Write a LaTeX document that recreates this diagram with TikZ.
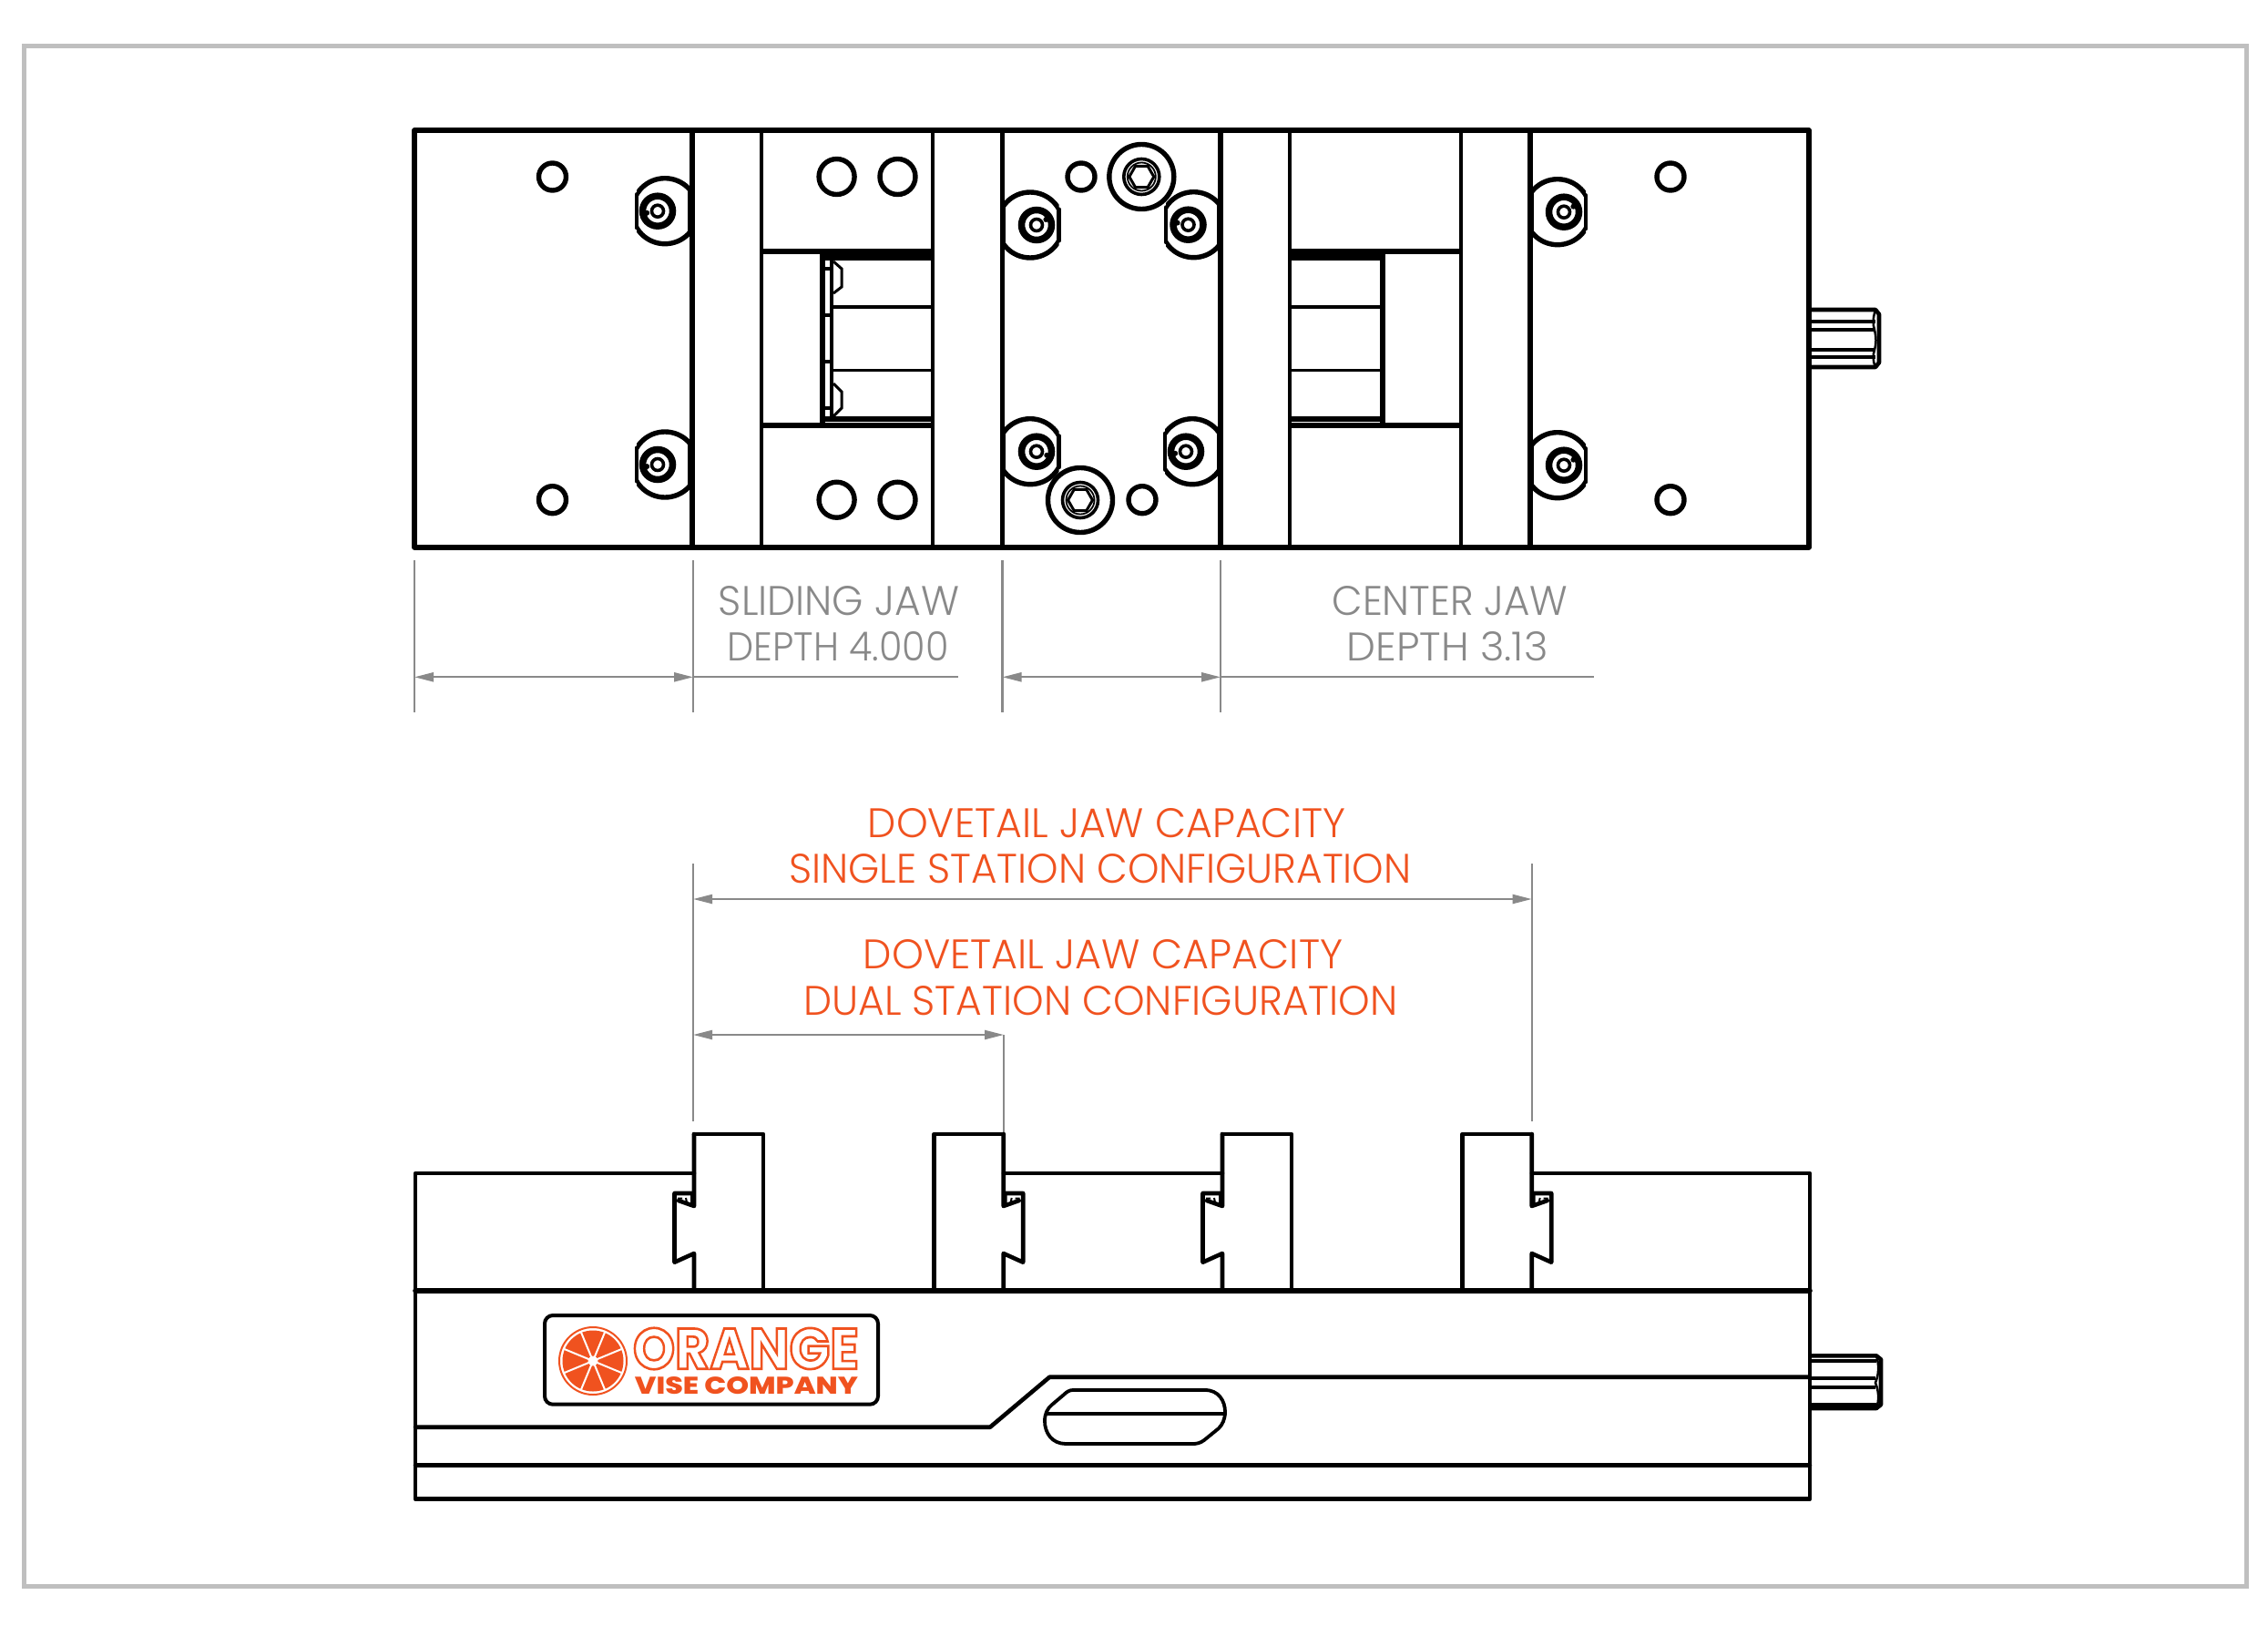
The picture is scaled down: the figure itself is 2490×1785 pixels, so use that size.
\documentclass[tikz,border=0pt]{standalone}
\usepackage{graphicx}
\usepackage{fontspec}
\usetikzlibrary{arrows.meta}
\setmainfont{Liberation Sans}
\newfontfamily\lightfont{Poppins}[UprightFont=* Light]
\newfontfamily\heavyfont{Poppins}[UprightFont=* Bold]
\newfontfamily\blackfont{Poppins}[UprightFont=* ExtraBold]
\definecolor{dimgray}{HTML}{898989}
\definecolor{orangetxt}{HTML}{F0521F}
\newcommand{\fitto}[3]{\resizebox{#1pt}{#2pt}{#3}}
\newcommand{\outlinetext}[1]{\special{pdf:code 1 Tr 0.42 w}#1\special{pdf:code 0 Tr}}
% truncated counterbore with a screw: cx cy sx left right notch-angle
\newcommand{\cbscrew}[6]{%
  \pgfmathsetmacro{\hL}{sqrt(36*36-(#1-#4)*(#1-#4))}%
  \pgfmathsetmacro{\hR}{sqrt(36*36-(#1-#5)*(#1-#5))}%
  \begin{scope}\clip (#4,#2-40) rectangle (#5,#2+40);
    \draw[hole] (#1,#2) circle [radius=36pt];
  \end{scope}
  \draw[part] (#4,#2-\hL) -- (#4,#2+\hL);
  \draw[part] (#5,#2-\hR) -- (#5,#2+\hR);
  \draw[line width=7.5pt] (#3,#2) circle [radius=16.5pt];
  \draw[line width=3.6pt] (#3,#2) circle [radius=6.5pt];
  \fill ([shift={(#6:12pt)}]#3,#2) circle [radius=3pt];
}
% socket head screw
\newcommand{\socket}[2]{%
  \draw[hole] (#1,#2) circle [radius=35.5pt];
  \draw[line width=3.6pt] (#1,#2) circle [radius=19.5pt];
  \draw[line width=1.8pt] (#1,#2) circle [radius=15.5pt];
  \draw[line width=3pt] (#1+13.5,#2) -- (#1+6.75,#2+11.7) -- (#1-6.75,#2+11.7) -- (#1-13.5,#2) -- (#1-6.75,#2-11.7) -- (#1+6.75,#2-11.7) -- cycle;
}
% dovetail: x of jaw face, direction (-1 left, 1 right)
\newcommand{\dovetail}[2]{%
  \begin{scope}[shift={(#1,0)},xscale=#2]
    \draw[part,line join=round] (1.5,1310) -- (21.5,1310) -- (21.5,1385.7) -- (0,1376) -- (0,1416.7);
    \draw[part] (0,1245) -- (0,1324) -- (17,1318);
    \draw[line width=2pt] (3,1312) -- (3,1322) (9,1315) -- (8,1320) (13,1315.5) -- (18,1315.5);
  \end{scope}
}
\tikzset{
  part/.style={line width=4.6pt,line cap=round,line join=round},
  heavy/.style={line width=5.6pt,line cap=round,line join=round},
  slotline/.style={line width=5.6pt,line cap=butt},
  hole/.style={line width=5.4pt},
  thinpart/.style={line width=3.8pt,line cap=butt},
  dimline/.style={dimgray,line width=2.2pt},
  dimarrow/.style={dimgray,line width=2.2pt,{Triangle[length=21pt,width=10pt]}-{Triangle[length=21pt,width=10pt]}},
  greylabel/.style={text=dimgray,inner sep=0pt,font=\lightfont},
  orangelabel/.style={text=orangetxt,inner sep=0pt,font=\lightfont},
}
\begin{document}
\begin{tikzpicture}[x=1pt,y=-1pt]
\useasboundingbox (0,0) rectangle (2490,1785);
\fill[white] (0,0) rectangle (2490,1785);
\draw[color=black!25,line width=5pt] (26,51) rectangle (2466,1741);

% ---------- top view ----------
\draw[heavy] (455,143) rectangle (1986,600.7);
\draw[heavy] (760,143) -- (760,600.7);
\draw[part] (836,143) -- (836,600.7) (1024,143) -- (1024,600.7);
\draw[part] (1100.5,143) -- (1100.5,600.7);
\draw[heavy] (1340,143) -- (1340,600.7);
\draw[part] (1416,143) -- (1416,600.7) (1604,143) -- (1604,600.7);
\draw[heavy] (1680,143) -- (1680,600.7);
\draw[slotline] (836,276) -- (1024,276) (836,467) -- (1024,467);
\draw[slotline] (1416,276) -- (1604,276) (1416,467) -- (1604,467);
% left slot
\draw[slotline] (903,276) -- (903,467);
\draw[thinpart] (913,280) -- (913,461);
\draw[line width=2.4pt] (903,280) -- (1024,280);
\draw[slotline] (903,283.5) -- (1024,283.5);
\draw[thinpart] (913,337) -- (1024,337) (913,406.5) -- (1024,406.5);
\draw[slotline] (903,460) -- (1024,460);
\draw[thinpart] (903,295) -- (913,295) (903,346) -- (913,346) (903,397) -- (913,397) (903,448) -- (913,448);
\draw[line width=3pt] (915,287) -- (924,295) -- (924,315) -- (915,322);
\draw[line width=3pt] (915,421) -- (924,430) -- (924,448) -- (915,457);
% right slot
\draw[slotline] (1518,276) -- (1518,467);
\draw[line width=2.4pt] (1416,280) -- (1516,280);
\draw[slotline] (1416,283.5) -- (1516,283.5);
\draw[thinpart] (1416,337) -- (1516,337) (1416,406.5) -- (1516,406.5);
\draw[slotline] (1416,460) -- (1516,460);
% small holes
\foreach \x/\y in {606.5/194,606.5/548.7,1187/194,1254/548.7,1834/194,1834/548.7}
  \draw[hole] (\x,\y) circle [radius=15pt];
\foreach \x/\y in {918.6/194,985.5/194,918.6/548.7,985.5/548.7}
  \draw[hole] (\x,\y) circle [radius=19.5pt];
% screws
\cbscrew{730}{231.7}{722}{699}{757}{190}
\cbscrew{730}{510}{722}{699}{757}{190}
\cbscrew{1131}{247}{1138}{1102}{1162.6}{30}
\cbscrew{1131}{495.7}{1138}{1102}{1162.6}{-20}
\cbscrew{1310.5}{246.7}{1304.5}{1280}{1338}{170}
\cbscrew{1309}{495.7}{1302}{1279}{1338}{190}
\cbscrew{1710}{232.7}{1717}{1682}{1741}{30}
\cbscrew{1710}{510.7}{1717}{1682}{1741}{30}
\socket{1253.3}{194}
\socket{1186}{549}
% drive stud, top view
\draw[part] (1986,340) -- (2059,340) -- (2063,345) -- (2063,398) -- (2059,403) -- (1986,403);
\draw[thinpart] (1986,353) -- (2059,353) (1986,362) -- (2059,362) (1986,384) -- (2059,384) (1986,392) -- (2059,392);
\draw[line width=2.5pt] (2059,340) .. controls (2056,350) and (2056,356) .. (2058,362) .. controls (2060,372) and (2060,376) .. (2058,384) .. controls (2056,390) and (2056,396) .. (2059,403);

% ---------- dimensions, top ----------
\coordinate (a1) at (455,615); \coordinate (a2) at (455,782);
\coordinate (b1) at (761,615); \coordinate (b2) at (761,782);
\coordinate (c1) at (1100.5,615); \coordinate (c2) at (1100.5,782);
\coordinate (d1) at (1340,615); \coordinate (d2) at (1340,782);
\coordinate (ha) at (455,743.3); \coordinate (hb) at (761,743.3);
\coordinate (hc) at (1100.5,743.3); \coordinate (hd) at (1340,743.3);
\coordinate (he) at (1051.6,743.3); \coordinate (hf) at (1750,743.3);
\draw[dimline] (a1) -- (a2);
\draw[dimline] (b1) -- (b2);
\draw[dimline] (c1) -- (c2);
\draw[dimline] (d1) -- (d2);
\draw[dimarrow] (ha) -- (hb);
\draw[dimarrow] (hc) -- (hd);
\draw[dimline] (hb) -- (he);
\draw[dimline] (hd) -- (hf);
\node[greylabel] (sliding) at (921,660) {\fitto{264}{32}{SLIDING JAW}};
\node[greylabel] (depthA) at (920,710) {\fitto{243}{32}{DEPTH 4.000}};
\node[greylabel] (center) at (1592,660) {\fitto{259}{32}{CENTER JAW}};
\node[greylabel] (depthB) at (1589,710) {\fitto{221}{32}{DEPTH 3.13}};

% ---------- dimensions, capacity ----------
\node[orangelabel] (dovA) at (1215,903.5) {\fitto{524}{32}{DOVETAIL JAW CAPACITY}};
\node[orangelabel] (single) at (1208,954) {\fitto{683}{32}{SINGLE STATION CONFIGURATION}};
\node[orangelabel] (dovB) at (1211,1048) {\fitto{526}{32}{DOVETAIL JAW CAPACITY}};
\node[orangelabel] (dual) at (1208.5,1099) {\fitto{652}{32}{DUAL STATION CONFIGURATION}};
\coordinate (e1) at (761,948); \coordinate (e2) at (761,1231);
\coordinate (f1) at (1681.7,948); \coordinate (f2) at (1681.7,1231);
\coordinate (g1) at (1102,1136); \coordinate (g2) at (1102,1245);
\coordinate (he1) at (761,987); \coordinate (hf1) at (1681.7,987);
\coordinate (he2) at (761,1136);
\draw[dimline] (e1) -- (e2);
\draw[dimline] (f1) -- (f2);
\draw[dimline] (g1) -- (g2);
\draw[dimarrow] (he1) -- (hf1);
\draw[dimarrow] (he2) -- (g1);

% ---------- front view ----------
\draw[part] (456,1416.7) -- (456,1288) -- (762,1288);
\draw[part] (1102,1288) -- (1342,1288);
\draw[part] (1682,1288) -- (1987,1288) -- (1987,1645.7) -- (456,1645.7) -- (456,1416.7);
\draw[heavy] (456,1416.7) -- (1987,1416.7);
% jaws: the dovetail side is drawn by \dovetail
\foreach \l/\r in {762/838,1342/1418}
  \draw[part] (\l,1245) -- (\r,1245) -- (\r,1416.7);
\foreach \l/\r in {1025.7/1101.7,1605.7/1681.7}
  \draw[part] (\r,1245) -- (\l,1245) -- (\l,1416.7);
\dovetail{762}{-1}
\dovetail{1101.7}{1}
\dovetail{1342}{-1}
\dovetail{1681.7}{1}
\draw[part] (456,1566.7) -- (1087,1566.7) -- (1152.3,1511.7) -- (1987,1511.7);
\draw[part] (456,1608.3) -- (1987,1608.3);
% slot
\draw[thinpart,line join=round] (1178,1526) -- (1323,1526) .. controls (1338,1526) and (1345,1538) .. (1345,1550) .. controls (1345,1558) and (1342,1564) .. (1338,1568) -- (1322,1581) .. controls (1318,1584) and (1314,1585) .. (1310,1585) -- (1170,1585) .. controls (1155,1585) and (1147,1573) .. (1147,1560) .. controls (1147,1552) and (1150,1546) .. (1155,1542) -- (1168,1531) .. controls (1171,1528) and (1174,1526) .. (1178,1526) -- cycle;
\draw[thinpart] (1150,1551.7) -- (1343,1551.7);
% drive stud, front view
\draw[part] (1987.7,1488.3) -- (2060,1488.3) -- (2065,1492.3) -- (2065,1542) -- (2060,1546) -- (1987.7,1546);
\draw[thinpart] (1987.7,1494) -- (2060,1494) (1987.7,1513) -- (2059,1513) (1987.7,1523.3) -- (2059,1523.3) (1987.7,1541.7) -- (2060,1541.7);
\draw[line width=2.5pt] (2060,1488.3) .. controls (2063,1498) and (2063,1508) .. (2059,1518) .. controls (2063,1528) and (2063,1538) .. (2060,1546);

% ---------- logo ----------
\draw[line width=4pt,rounded corners=9pt] (598,1444) rectangle (964,1541.7);
\draw[orangetxt,line width=2pt] (651,1494) circle [radius=37pt];
\fill[orangetxt] (651,1494) circle [radius=33.5pt];
\foreach \a in {22.5,67.5,...,337.5}
  \draw[white,line width=2pt] (651,1494) -- ++(\a:34pt);
\fill[white] (651,1494) circle [radius=5.5pt];
\node[inner sep=0pt,text=orangetxt,font=\heavyfont] (orange) at (819,1480.5) {\fitto{248}{45}{\outlinetext{ORANGE}}};
\node[inner sep=0pt,text=orangetxt,font=\blackfont] (vise) at (819.5,1521.5) {\fitto{245}{19}{VISE COMPANY}};
\end{tikzpicture}
\end{document}
